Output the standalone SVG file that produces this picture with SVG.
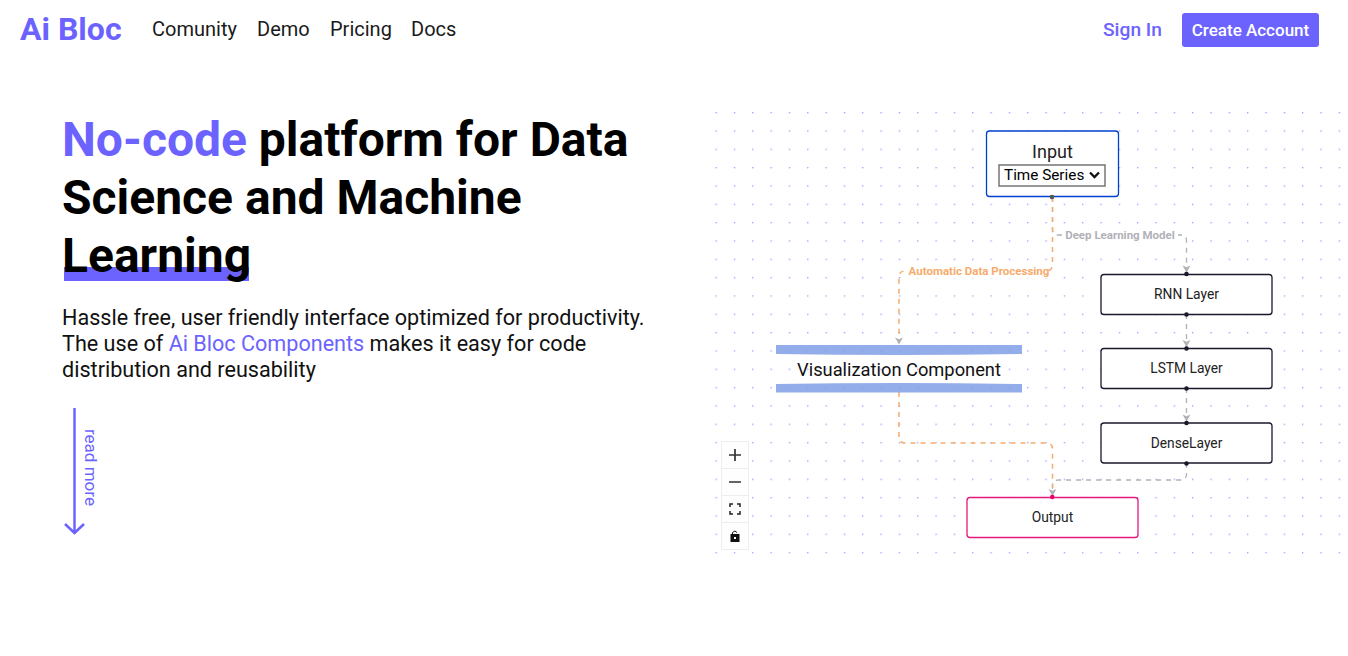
<svg xmlns="http://www.w3.org/2000/svg" width="1348" height="656" viewBox="0 0 1348 656">
<style>
text{font-family:Roboto,"Liberation Sans",sans-serif;fill:#000}
.nav{font-size:20px;fill:#1a1a1a}
.h{font-size:48px;font-weight:700}
.p{font-size:21.6px;fill:#111}
.acc{fill:#6c63ff}
.node{fill:#fff;stroke-width:1.3}
.dark{stroke:#1a192b}
.lbl{font-size:13.8px;text-anchor:middle;fill:#222}
.edgeO{fill:none;stroke:#f6ab6c;stroke-width:1.5;stroke-dasharray:5}
.edgeG{fill:none;stroke:#b1b1b7;stroke-width:1.3;stroke-dasharray:5}
.el{font-size:11.5px;font-weight:700;text-anchor:middle}
.h1{fill:#1a192b}
.ctl{fill:#fefefe;stroke:#eee;stroke-width:1}
</style>
<defs>
<pattern id="dots" x="715.500" y="112" width="18.33" height="18.33" patternUnits="userSpaceOnUse">
<circle cx="0.700" cy="0.700" r="0.700" fill="#8a84ff"/>
</pattern>
<marker id="arr" markerWidth="9" markerHeight="9" refX="8" refY="4.500" orient="auto" markerUnits="userSpaceOnUse" viewBox="0 0 9 9"><path d="M1 .5L8 4.500L1 8.500L2.800 4.500Z" fill="#b1b1b7"/></marker>
</defs>
<rect width="1348" height="656" fill="#fff"/>
<g id="header">
<text x="20" y="40" font-size="32" font-weight="700" class="acc">Ai Bloc</text>
<text x="152" y="36" class="nav">Comunity</text>
<text x="257" y="36" class="nav">Demo</text>
<text x="330" y="36" class="nav">Pricing</text>
<text x="411" y="36" class="nav">Docs</text>
<text x="1103" y="36" font-size="19.200" font-weight="500" class="acc">Sign In</text>
<rect x="1182" y="13" width="137" height="34" rx="3" fill="#6c63ff"/>
<text x="1250.500" y="36" font-size="17" font-weight="500" text-anchor="middle" style="fill:#fff">Create Account</text>
</g>
<g id="hero">
<rect x="64" y="267" width="185" height="14" fill="#6c63ff"/>
<text x="62" y="156" class="h"><tspan class="acc">No-code</tspan> platform for Data</text>
<text x="62" y="214" class="h">Science and Machine</text>
<text x="62" y="272" class="h">Learning</text>
<text x="62" y="325" class="p">Hassle free, user friendly interface optimized for productivity.</text>
<text x="62" y="351" class="p">The use of <tspan class="acc">Ai Bloc Components</tspan> makes it easy for code</text>
<text x="62" y="377" class="p">distribution and reusability</text>
<g id="read-more">
<path d="M74.500 408V533M65 524L74.500 533L84 524" fill="none" stroke="#6c63ff" stroke-width="2.500"/>
<text transform="translate(84.500,429) rotate(90)" font-size="17" class="acc">read more</text>
</g>
</g>
<rect x="715" y="112" width="626" height="443" fill="url(#dots)"/>
<g id="connectors">
<path class="edgeG" d="M1052.500 197V229Q1052.500 235 1058 235H1181Q1186.500 235 1186.500 241V272.500" marker-end="url(#arr)"/>
<path class="edgeG" d="M1186.500 314V347" marker-end="url(#arr)"/>
<path class="edgeG" d="M1186.500 388V421.500" marker-end="url(#arr)"/>
<path class="edgeG" d="M1186.500 463V474Q1186.500 480 1181 480H1058Q1052.500 480 1052.500 486V496" marker-end="url(#arr)"/>
<path class="edgeO" d="M899 337V344.500" style="stroke:none" marker-end="url(#arr)"/>
<path class="edgeO" d="M1052.500 197V264Q1052.500 271 1046 271H905Q899 271 899 277V337"/>
<path class="edgeO" d="M899 392V437Q899 443 905 443H1046Q1052.500 443 1052.500 449V488"/>
<rect x="1062" y="229" width="116" height="13" fill="#fff"/>
<text x="1120" y="239" class="el" style="fill:#b1b1b7">Deep Learning Model</text>
<rect x="908" y="265" width="141" height="13" fill="#fff"/>
<text x="979" y="275" class="el" style="fill:#f6ab6c">Automatic Data Processing</text>
</g>
<g id="node-input">
<rect x="986.500" y="131" width="132" height="65.500" rx="3" fill="#fff" stroke="#0041d0" stroke-width="1.300"/>
<text x="1052.500" y="158" font-size="18" text-anchor="middle" style="fill:#222">Input</text>
<rect x="999" y="165" width="106" height="21" fill="#fff" stroke="#767676" stroke-width="1.500"/>
<text x="1004" y="180" font-size="15.300" style="fill:#000">Time Series</text>
<path d="M1090 172.500L1094.500 177L1099 172.500" fill="none" stroke="#111" stroke-width="2.300"/>
<circle cx="1052" cy="197" r="2.300" fill="#555"/>
</g>
<g id="node-rnn">
<rect x="1101" y="274.500" width="171" height="40" rx="3" class="node dark"/>
<text x="1186.500" y="298.700" class="lbl">RNN Layer</text>
<circle cx="1186.500" cy="274" r="2.300" class="h1"/><circle cx="1186.500" cy="314.500" r="2.300" class="h1"/>
</g>
<g id="node-lstm">
<rect x="1101" y="348.500" width="171" height="40" rx="3" class="node dark"/>
<text x="1186.500" y="372.700" class="lbl">LSTM Layer</text>
<circle cx="1186.500" cy="348.500" r="2.300" class="h1"/><circle cx="1186.500" cy="388.500" r="2.300" class="h1"/>
</g>
<g id="node-dense">
<rect x="1101" y="423" width="171" height="40" rx="3" class="node dark"/>
<text x="1186.500" y="447.700" class="lbl">DenseLayer</text>
<circle cx="1186.500" cy="423" r="2.300" class="h1"/><circle cx="1186.500" cy="463.500" r="2.300" class="h1"/>
</g>
<g id="node-output">
<rect x="967" y="497.500" width="171" height="40" rx="3" fill="#fff" stroke="#e6177e" stroke-width="1.300"/>
<text x="1052.500" y="521.700" class="lbl">Output</text>
<circle cx="1052.300" cy="497" r="2.300" fill="#e6006e"/>
</g>
<g id="node-visualization">
<path d="M776 345H1022V354Q899 356 776 354Z" fill="#7f9fe6" fill-opacity=".85"/>
<path d="M776 392.500H1022V384Q899 382 776 384Z" fill="#7f9fe6" fill-opacity=".85"/>
<text x="899" y="376" font-size="18.300" text-anchor="middle" style="fill:#111">Visualization Component</text>
</g>
<g id="controls">
<rect x="721.500" y="441.500" width="27" height="27" class="ctl"/>
<rect x="721.500" y="468.500" width="27" height="27" class="ctl"/>
<rect x="721.500" y="495.500" width="27" height="27" class="ctl"/>
<rect x="721.500" y="522.500" width="27" height="27" class="ctl"/>
<path d="M729 455H741M735 449V461M729 482H741" stroke="#333" stroke-width="1.700" fill="none"/>
<path d="M730 507V504H733M737 504H740V507M740 511V514H737M733 514H730V511" stroke="#222" stroke-width="1.500" fill="none"/>
<path d="M730.500 534H739.500V542H730.500Z" fill="#111"/>
<path d="M732.500 534V532.500Q735 529.500 737 532.500" stroke="#111" stroke-width="1" fill="none"/>
<rect x="734" y="537" width="2" height="2" fill="#fff"/>
</g>
</svg>
